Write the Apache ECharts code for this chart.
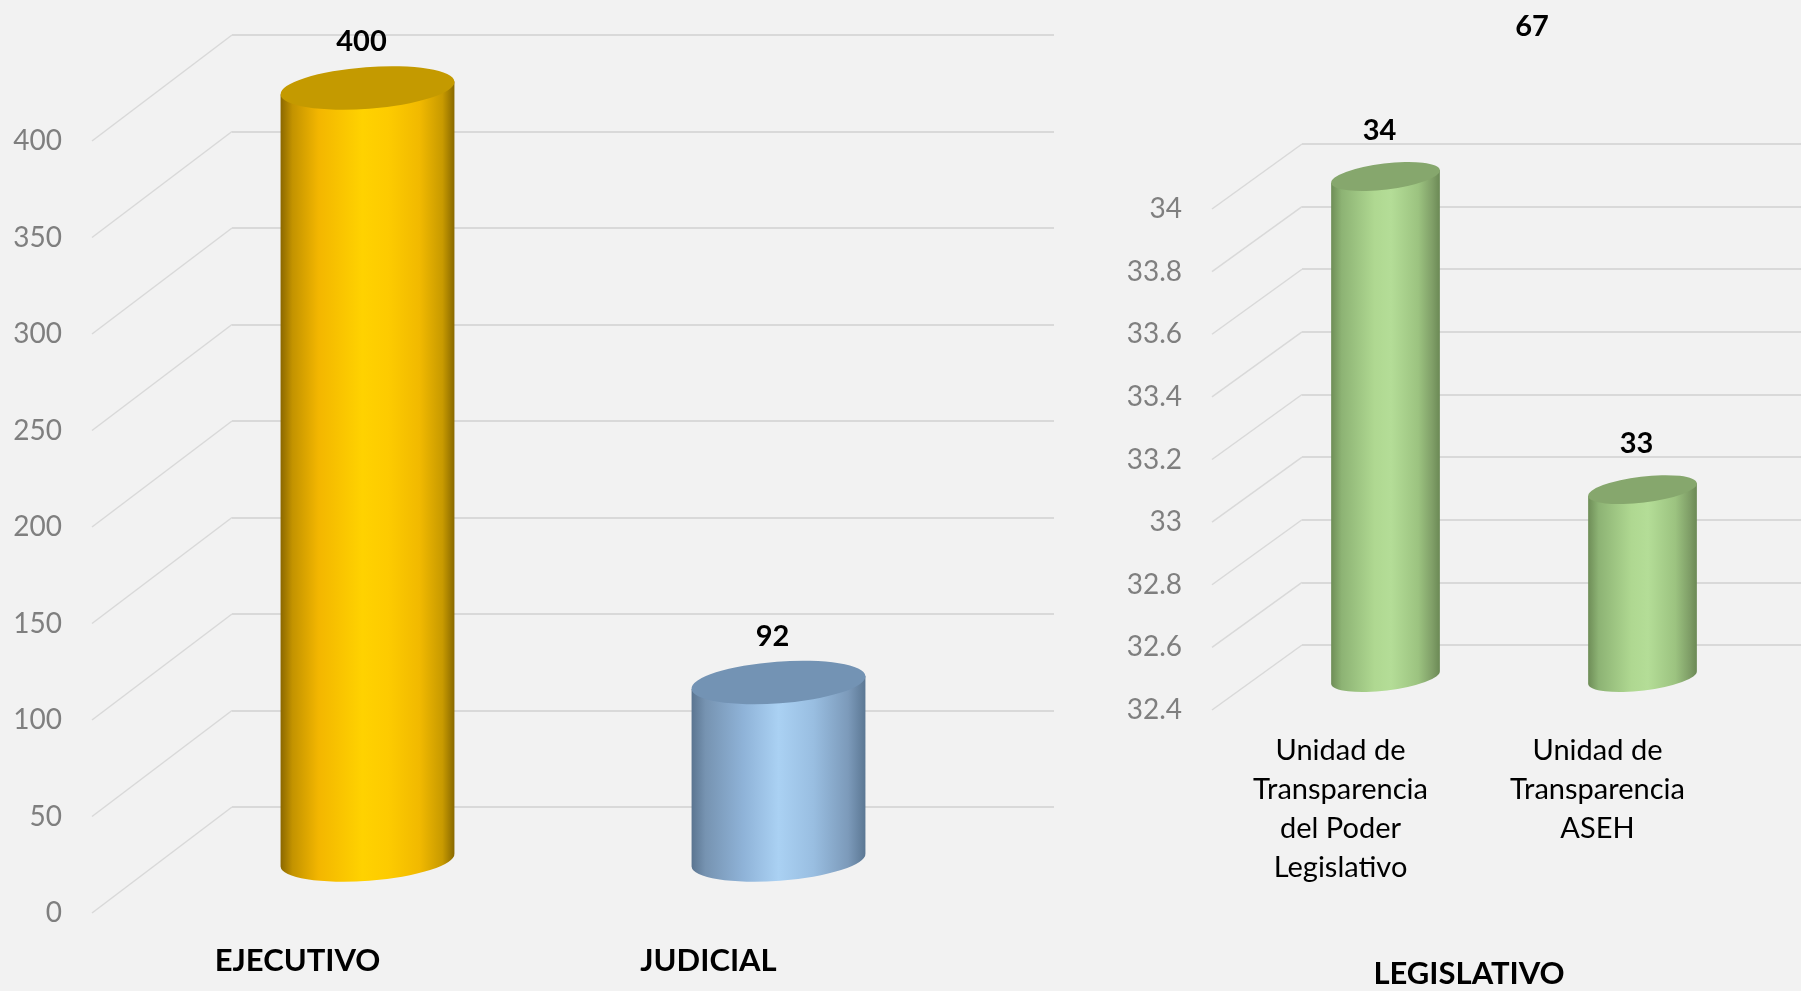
<!DOCTYPE html>
<html>
<head>
<meta charset="utf-8">
<title>Solicitudes por poder</title>
<script src="https://cdn.jsdelivr.net/npm/echarts@6/dist/echarts.min.js"></script>
<style>
  html, body { margin: 0; padding: 0; background: #f2f2f2; }
  #chart { width: 1801px; height: 991px; }
</style>
</head>
<body>
<div id="chart"></div>
<script>
// poderes ejecutivo y judicial
const ejecJudCategories = ['EJECUTIVO', 'JUDICIAL'];
const ejecJudValues = [400, 92];
const ejecJudTicks = [0, 50, 100, 150, 200, 250, 300, 350, 400];

// poder legislativo
const legisCategories = [
    'Unidad de\nTransparencia\ndel Poder\nLegislativo',
    'Unidad de\nTransparencia\nASEH'
];
const legisValues = [34, 33];
const legisTicks = [32.4, 32.6, 32.8, 33, 33.2, 33.4, 33.6, 33.8, 34];
const legisTitle = 'LEGISLATIVO';
const legisTotal = 67;

const FONT = 'Lato, "Open Sans", sans-serif';

// front plane and back wall of each pseudo 3D panel (px)
const panels = [
    {
        front: { left: 92, top: 141, width: 822, height: 772 },
        back: { left: 232, top: 35, width: 822, height: 772 }
    },
    {
        front: { left: 1212, top: 209, width: 514, height: 501 },
        back: { left: 1302, top: 144, width: 499, height: 501 }
    }
];

const gold = {
    body: [[0, '#8a6700'], [0.07, '#c39300'], [0.22, '#f3b600'], [0.47, '#ffd200'],
        [0.62, '#fdcb00'], [0.8, '#f1b900'], [0.93, '#c89a00'], [1, '#876800']],
    top: '#c49a00'
};
const blue = {
    body: [[0, '#5a7490'], [0.08, '#7693b1'], [0.3, '#8fb3d8'], [0.5, '#aad1f3'],
        [0.7, '#99bee1'], [0.9, '#7c9aba'], [1, '#5b7793']],
    top: '#7393b4'
};
const green = {
    body: [[0, '#6d8c56'], [0.1, '#8db374'], [0.4, '#afd891'], [0.55, '#b4dd97'],
        [0.8, '#9cc380'], [0.93, '#7f9e67'], [1, '#6a8854']],
    top: '#86a76d'
};

function tickRange(ticks) {
    return {
        min: ticks[0],
        max: ticks[ticks.length - 1],
        interval: Math.round((ticks[1] - ticks[0]) * 1000) / 1000
    };
}

function gradient(stops) {
    return {
        type: 'linear', x: 0, y: 0, x2: 1, y2: 0,
        colorStops: stops.map(s => ({ offset: s[0], color: s[1] }))
    };
}

// lineas laterales (pared izquierda) que unen el frente con el fondo
function sideLines(axisIdx, ticks, panel) {
    const dx = panel.back.left - panel.front.left;
    const dy = panel.front.top - panel.back.top;
    return {
        type: 'custom',
        xAxisIndex: axisIdx,
        yAxisIndex: axisIdx,
        silent: true,
        data: ticks.map(v => [0, v]),
        renderItem: function (params, api) {
            const p = api.coord([0, api.value(1)]);
            return {
                type: 'line',
                shape: { x1: p[0] - dx, y1: p[1] + dy, x2: p[0], y2: p[1] },
                style: { stroke: '#d9d9d9', lineWidth: 1.5 }
            };
        }
    };
}

// cilindros
function cylinders(axisIdx, values, palettes, panel, minVal) {
    const dx = panel.back.left - panel.front.left;
    const dy = panel.front.top - panel.back.top;
    return {
        type: 'custom',
        xAxisIndex: axisIdx,
        yAxisIndex: axisIdx,
        data: values.map((v, i) => [i, v]),
        renderItem: function (params, api) {
            const cat = api.value(0);
            const v = api.value(1);
            const top = api.coord([cat, v]);
            const base = api.coord([cat, minVal]);
            const w = api.size([1, 0])[0] * 0.423;
            const cx = top[0] + dx / 2;
            const yt = top[1] - dy / 2;
            const yb = base[1] - dy / 2;
            const xl = cx - w / 2;
            const xr = cx + w / 2;
            const ry = w * 0.12;
            const t = 6.5;
            const rx = Math.sqrt(w * w / 4 + t * t);
            const ang = Math.atan2(-2 * t, w) * 180 / Math.PI;
            const pal = palettes[params.dataIndex];
            const arc = rx + ' ' + ry + ' ' + ang + ' 0 0 ';
            const body = 'M' + xl + ' ' + (yt + t) + ' L' + xl + ' ' + (yb + t) +
                ' A' + arc + xr + ' ' + (yb - t) + ' L' + xr + ' ' + (yt - t) + ' Z';
            const cap = 'M' + xl + ' ' + (yt + t) + ' A' + arc + xr + ' ' + (yt - t) +
                ' A' + arc + xl + ' ' + (yt + t) + ' Z';
            return {
                type: 'group',
                children: [
                    { type: 'path', shape: { pathData: body }, style: { fill: gradient(pal.body) } },
                    { type: 'path', shape: { pathData: cap }, style: { fill: pal.top } },
                    {
                        type: 'text',
                        style: {
                            text: String(v), x: cx - 6, y: yt - 46,
                            align: 'center', verticalAlign: 'middle',
                            font: 'bold 29px ' + FONT, fill: '#000'
                        }
                    }
                ]
            };
        }
    };
}

const leftRange = tickRange(ejecJudTicks);
const rightRange = tickRange(legisTicks);

function frontY(range, gridIndex) {
    return Object.assign({
        type: 'value',
        gridIndex: gridIndex,
        axisLine: { show: false },
        axisTick: { show: false },
        splitLine: { show: false },
        axisLabel: {
            margin: 30, color: '#7f7f7f', fontSize: 28, fontFamily: FONT,
            padding: [7, 0, 0, 0]
        }
    }, range);
}

function backY(range, gridIndex) {
    return Object.assign({
        type: 'value',
        gridIndex: gridIndex,
        axisLine: { show: false },
        axisTick: { show: false },
        axisLabel: { show: false },
        splitLine: { lineStyle: { color: '#d9d9d9', width: 2 } }
    }, range);
}

function gridBox(b) {
    return {
        left: b.left, top: b.top, width: b.width, height: b.height,
        containLabel: false, outerBoundsMode: 'none'
    };
}

const myChart = echarts.init(document.getElementById('chart'));
const option = {
    backgroundColor: '#f2f2f2',
    animation: false,
    grid: [
        gridBox(panels[0].front),
        gridBox(panels[0].back),
        gridBox(panels[1].front),
        gridBox(panels[1].back)
    ],
    xAxis: [
        {
            type: 'category',
            gridIndex: 0,
            data: ejecJudCategories,
            axisLine: { show: false },
            axisTick: { show: false },
            axisLabel: {
                margin: 48, verticalAlign: 'middle', color: '#000',
                fontWeight: 'bold', fontSize: 31, fontFamily: FONT
            }
        },
        { type: 'value', gridIndex: 1, min: 0, max: 1, show: false },
        {
            type: 'category',
            gridIndex: 2,
            data: legisCategories,
            axisLine: { show: false },
            axisTick: { show: false },
            axisLabel: {
                margin: 21, verticalAlign: 'top', lineHeight: 39,
                color: '#000', fontSize: 29, fontFamily: FONT
            },
            name: legisTitle,
            nameLocation: 'middle',
            nameGap: 264,
            nameTextStyle: {
                verticalAlign: 'middle', color: '#000',
                fontWeight: 'bold', fontSize: 31, fontFamily: FONT
            }
        },
        { type: 'value', gridIndex: 3, min: 0, max: 1, show: false }
    ],
    yAxis: [
        frontY(leftRange, 0),
        backY(leftRange, 1),
        frontY(rightRange, 2),
        backY(rightRange, 3)
    ],
    graphic: [
        {
            type: 'text',
            style: {
                text: String(legisTotal), x: 1532, y: 27,
                align: 'center', verticalAlign: 'middle',
                font: 'bold 29px ' + FONT, fill: '#000'
            }
        }
    ],
    series: [
        sideLines(1, ejecJudTicks, panels[0]),
        sideLines(3, legisTicks, panels[1]),
        cylinders(0, ejecJudValues, [gold, blue], panels[0], leftRange.min),
        cylinders(2, legisValues, [green, green], panels[1], rightRange.min)
    ]
};
myChart.setOption(option);
</script>
</body>
</html>
